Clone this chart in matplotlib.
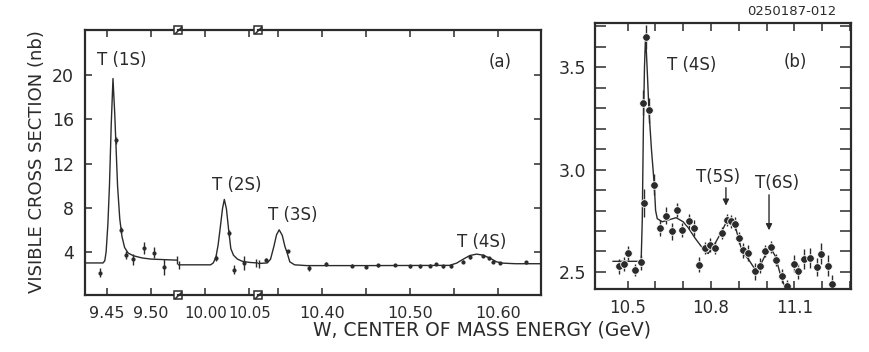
import matplotlib
matplotlib.use('Agg')
import matplotlib.pyplot as plt

ink = '#2b2b2b'
plt.rcParams['font.family'] = 'DejaVu Sans'
plt.rcParams['text.color'] = ink
plt.rcParams['axes.edgecolor'] = ink
plt.rcParams['xtick.color'] = ink
plt.rcParams['ytick.color'] = ink

# ---- panel (a): broken energy axis, three pieces ----
# piece 1 : Y(1S) region
w1 = [9.442, 9.460, 9.4655, 9.472, 9.480, 9.492, 9.503, 9.515]
s1 = [2.1, 14.1, 6.0, 3.73, 3.35, 4.34, 3.94, 2.62]
e1 = [0.4, 0.3, 0.3, 0.37, 0.5, 0.55, 0.5, 0.75]
fit1_w = [9.425, 9.4455, 9.4475, 9.449, 9.451, 9.4528, 9.4548, 9.4568, 9.4588,
          9.462, 9.4645, 9.467, 9.470, 9.474, 9.480, 9.490, 9.500, 9.515, 9.5305]
fit1_s = [3.0, 3.0, 3.2, 4.0, 6.5, 10.0, 15.5, 19.7, 16.5,
          10.0, 7.0, 5.4, 4.4, 3.9, 3.65, 3.45, 3.35, 3.3, 3.25]

# piece 2 : Y(2S) region
w2 = [10.012, 10.027, 10.033, 10.044]
s2 = [3.45, 5.7, 2.38, 3.0]
e2 = [0.3, 0.3, 0.4, 0.6]
fit2_w = [9.969, 10.006, 10.009, 10.012, 10.0145, 10.017, 10.0195, 10.0216,
          10.024, 10.0265, 10.029, 10.032, 10.0365, 10.042, 10.050, 10.059]
fit2_s = [2.83, 2.83, 3.0, 3.5, 4.6, 6.2, 7.9, 8.75,
          7.9, 6.0, 4.3, 3.7, 3.35, 3.15, 3.05, 3.0]

# piece 3 : Y(3S) and Y(4S) region
w3 = [10.336, 10.361, 10.385, 10.405, 10.434, 10.450, 10.464, 10.483, 10.500,
      10.511, 10.523, 10.530, 10.538, 10.547, 10.560, 10.568, 10.583, 10.590,
      10.594, 10.602, 10.632]
s3 = [3.3, 4.05, 2.53, 2.9, 2.74, 2.62, 2.77, 2.83, 2.68,
      2.68, 2.74, 2.92, 2.68, 2.68, 3.13, 3.52, 3.64, 3.43,
      3.13, 2.98, 3.07]
e3 = [0.15, 0.15, 0.3, 0.15, 0.12, 0.12, 0.12, 0.12, 0.12,
      0.12, 0.12, 0.12, 0.12, 0.12, 0.12, 0.12, 0.12, 0.12,
      0.12, 0.12, 0.12]
fit3_w = [10.3275, 10.338, 10.3417, 10.3455, 10.3485, 10.3515, 10.355, 10.358,
          10.3606, 10.3636, 10.369, 10.383, 10.45, 10.545, 10.553, 10.5606,
          10.568, 10.5758, 10.5833, 10.591, 10.5985, 10.606, 10.62, 10.649]
fit3_s = [2.95, 3.0, 3.34, 4.5, 5.55, 6.0, 5.5, 4.5,
          3.9, 3.1, 2.83, 2.76, 2.76, 2.78, 2.98, 3.34,
          3.67, 3.8, 3.7, 3.43, 3.1, 2.98, 2.93, 2.93]

# ---- panel (b): fine scan above the Y(4S) ----
wb = [10.469, 10.488, 10.503, 10.527, 10.547, 10.555, 10.558, 10.565, 10.577,
      10.596, 10.618, 10.637, 10.659, 10.677, 10.697, 10.721, 10.740, 10.758,
      10.779, 10.797, 10.815, 10.839, 10.858, 10.873, 10.886, 10.900, 10.914,
      10.933, 10.958, 10.976, 10.996, 11.017, 11.034, 11.056, 11.075, 11.098,
      11.113, 11.134, 11.158, 11.182, 11.197, 11.221, 11.236]
sb = [2.527, 2.540, 2.593, 2.511, 2.547, 3.327, 2.837, 3.646, 3.288,
      2.926, 2.715, 2.775, 2.698, 2.804, 2.706, 2.747, 2.715, 2.536,
      2.617, 2.633, 2.617, 2.690, 2.755, 2.747, 2.736, 2.666, 2.605,
      2.593, 2.503, 2.531, 2.601, 2.622, 2.557, 2.479, 2.430, 2.541,
      2.503, 2.563, 2.568, 2.524, 2.589, 2.531, 2.443]
eb = [0.035, 0.035, 0.035, 0.03, 0.035, 0.06, 0.07, 0.06, 0.06,
      0.05, 0.04, 0.04, 0.04, 0.035, 0.035, 0.035, 0.04, 0.035,
      0.03, 0.035, 0.03, 0.03, 0.03, 0.03, 0.03, 0.03, 0.035,
      0.04, 0.04, 0.035, 0.03, 0.03, 0.03, 0.035, 0.03, 0.04,
      0.035, 0.05, 0.05, 0.045, 0.05, 0.05, 0.04]
fitb_w = [10.448, 10.549, 10.553, 10.557, 10.561, 10.565, 10.572, 10.577,
          10.586, 10.596, 10.601, 10.607, 10.625, 10.65, 10.675, 10.70,
          10.719, 10.743, 10.779, 10.79, 10.815, 10.840, 10.862, 10.888,
          10.912, 10.936, 10.960, 10.977, 10.996, 11.014, 11.032, 11.050, 11.068]
fitb_s = [2.552, 2.552, 2.75, 3.2, 3.5, 3.66, 3.45, 3.29,
          3.1, 2.93, 2.8, 2.76, 2.745, 2.755, 2.765, 2.745,
          2.715, 2.665, 2.60, 2.59, 2.64, 2.70, 2.763, 2.72,
          2.60, 2.56, 2.51, 2.53, 2.584, 2.62, 2.576, 2.487, 2.42]

fig = plt.figure(figsize=(8.7, 3.52), dpi=100)

# axes boxes in figure fractions
bot_a, h_a = 0.162, 0.753
ax1 = fig.add_axes([0.0977, bot_a, 0.1069, h_a])
ax2 = fig.add_axes([0.2046, bot_a, 0.0920, h_a])
ax3 = fig.add_axes([0.2966, bot_a, 0.3253, h_a])
axb = fig.add_axes([0.6839, 0.179, 0.2943, 0.7557])

pieces = [(ax1, w1, s1, e1, fit1_w, fit1_s, (9.425, 9.5307)),
          (ax2, w2, s2, e2, fit2_w, fit2_s, (9.969, 10.0599)),
          (ax3, w3, s3, e3, fit3_w, fit3_s, (10.3275, 10.649))]
for ax, w, s, e, fw, fs, lim in pieces:
    ax.patch.set_visible(False)  # labels may run across the piece borders
    ax.plot(fw, fs, color=ink, lw=1.0)
    ax.errorbar(w, s, yerr=e, fmt='o', ms=2, color=ink, elinewidth=1.0, capsize=0)
    ax.set_xlim(lim)
    ax.set_ylim(0.1, 24.1)
    ax.set_yticks([4, 8, 12, 16, 20])
    ax.tick_params(direction='in', length=5, width=1.1, top=True, right=True, pad=8)
    ax.tick_params(axis='x', labelsize=11.5)
    ax.tick_params(axis='y', labelsize=12.5)
    for sp in ax.spines.values():
        sp.set_linewidth(1.6)

ax1.spines['right'].set_visible(False)
ax2.spines['left'].set_visible(False)
ax2.spines['right'].set_visible(False)
ax3.spines['left'].set_visible(False)
ax1.tick_params(right=False)
ax2.tick_params(left=False, right=False, labelleft=False)
ax3.tick_params(left=False, labelleft=False)

ax1.set_xticks([9.45, 9.50], ['9.45', '9.50'])
ax2.set_xticks([10.00, 10.05], ['10.00', '10.05'])
ax2.tick_params(axis='x', labelsize=10.8)
ax3.set_xticks([10.40, 10.50, 10.60], ['10.40', '10.50', '10.60'])
ax3.set_xticks([10.35, 10.45, 10.55], minor=True)
ax3.tick_params(which='minor', direction='in', length=5, width=1.1, top=True)

# curve break ticks and axis break symbols
ax1.plot([9.5295], [3.25], marker='|', ms=6, color=ink, clip_on=False)
ax2.plot([9.9705, 10.0575], [2.83, 3.0], ls='none', marker='|', ms=6, color=ink, clip_on=False)
ax3.plot([10.329], [2.95], marker='|', ms=6, color=ink, clip_on=False)
for ax in (ax1, ax2):
    for yy in (0, 1):
        ax.plot([1], [yy], transform=ax.transAxes, marker='s', ms=6, mfc='white',
                mec=ink, mew=1.1, clip_on=False, zorder=5)
        ax.plot([1], [yy], transform=ax.transAxes, marker=[(-1, -1), (1, 1)], ms=5,
                mec=ink, mew=1.1, clip_on=False, zorder=6)

ax1.text(9.467, 21.4, 'T (1S)', ha='center', va='center', fontsize=12)
ax2.text(10.036, 10.1, 'T (2S)', ha='center', va='center', fontsize=12)
ax3.text(10.367, 7.35, 'T (3S)', ha='center', va='center', fontsize=12)
ax3.text(10.582, 4.9, 'T (4S)', ha='center', va='center', fontsize=12)
ax3.text(10.602, 21.2, '(a)', ha='center', va='center', fontsize=12)

# ---- panel (b) ----
axb.plot(fitb_w, fitb_s, color=ink, lw=1.0)
axb.errorbar(wb, sb, yerr=eb, fmt='o', ms=5.5, color=ink, mec='white', mew=0.6,
             elinewidth=1.0, capsize=0)
axb.set_xlim(10.383, 11.304)
axb.set_ylim(2.417, 3.715)
axb.set_xticks([10.5, 10.8, 11.1], ['10.5', '10.8', '11.1'])
axb.set_xticks([10.6, 10.7, 10.9, 11.0, 11.2, 11.3], minor=True)
axb.set_yticks([2.5, 3.0, 3.5], ['2.5', '3.0', '3.5'])
axb.set_yticks([2.6, 2.7, 2.8, 2.9, 3.1, 3.2, 3.3, 3.4, 3.6, 3.7], minor=True)
axb.tick_params(axis='y', which='both', direction='in', length=8, width=1.1,
                left=True, right=True, labelsize=12.5, pad=6)
axb.tick_params(axis='x', which='both', direction='in', length=6, width=1.1,
                top=True, bottom=True, labelsize=12, pad=7)
for sp in axb.spines.values():
    sp.set_linewidth(1.6)

axb.text(10.732, 3.51, 'T (4S)', ha='center', va='center', fontsize=12)
axb.text(11.103, 3.527, '(b)', ha='center', va='center', fontsize=12)
axb.text(10.826, 2.965, 'T(5S)', ha='center', va='center', fontsize=12)
axb.text(11.038, 2.936, 'T(6S)', ha='center', va='center', fontsize=12)
axb.annotate('', xy=(10.854, 2.81), xytext=(10.854, 2.925),
             arrowprops=dict(arrowstyle='-|>', color=ink, lw=1.0, mutation_scale=9))
axb.annotate('', xy=(11.009, 2.69), xytext=(11.009, 2.89),
             arrowprops=dict(arrowstyle='-|>', color=ink, lw=1.0, mutation_scale=9))

fig.text(0.0425, 0.54, 'VISIBLE CROSS SECTION (nb)', rotation=90,
         ha='center', va='center', fontsize=13)
fig.text(0.554, 0.0625, 'W, CENTER OF MASS ENERGY (GeV)', ha='center',
         va='center', fontsize=13.5)
fig.text(0.910, 0.966, '0250187-012', ha='center', va='center', fontsize=9.5)

fig.savefig('out.png', dpi=100)
